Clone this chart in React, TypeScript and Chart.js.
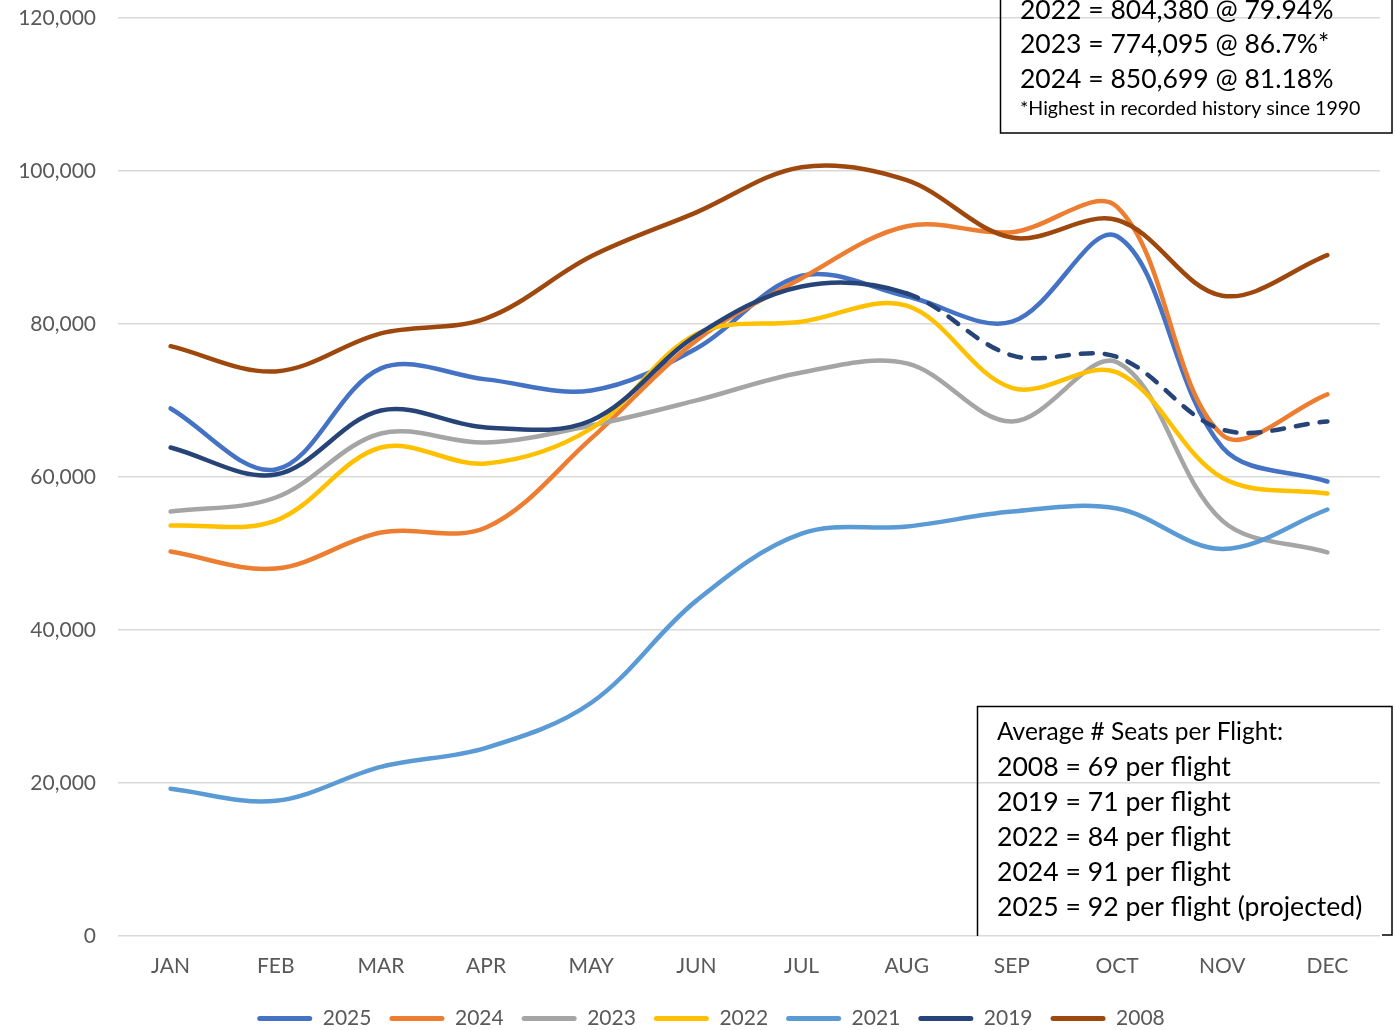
import React, { useEffect, useRef } from "react";
import { Chart, registerables } from "chart.js";

Chart.register(...registerables);

const MONTHS = ["JAN", "FEB", "MAR", "APR", "MAY", "JUN", "JUL", "AUG", "SEP", "OCT", "NOV", "DEC"];

const S2025 = [68960, 60980, 74200, 72760, 71320, 76800, 86300, 83620, 80300, 91470, 63900, 59410];
const S2024 = [50250, 48030, 52740, 53390, 65040, 77860, 85980, 92780, 92000, 95300, 65500, 70800];
const S2023 = [55480, 57320, 65690, 64510, 66740, 70010, 73670, 74850, 67260, 75000, 54300, 50150];
const S2022 = [53650, 54310, 63860, 61770, 66350, 78700, 80300, 82400, 71650, 73670, 59900, 57840];
const S2021 = [19240, 17670, 22110, 24600, 30490, 43840, 52600, 53520, 55480, 55880, 50600, 55750];
const S2019 = [63860, 60330, 68700, 66480, 67390, 78500, 84900, 84000, 75900, 75700, 66200, 67260];
const S2008 = [77100, 73800, 78780, 80740, 88850, 94600, 100500, 98800, 91300, 93600, 83700, 89000];

const SERIES_LABELS = ["2025", "2024", "2023", "2022", "2021", "2019", "2008"];
const SERIES_VALUES = [S2025, S2024, S2023, S2022, S2021, S2019, S2008];
const SERIES_COLORS = ["#4472C4", "#ED7D31", "#A5A5A5", "#FFC000", "#5B9BD5", "#264478", "#9E480E"];
const PROJECTED_FROM_INDEX = 7; // 2019 line dashed from AUG onward

const Y_TICKS = [0, 20000, 40000, 60000, 80000, 100000, 120000];

const TOP_NOTE_LINES = ["2022 = 804,380 @ 79.94%", "2023 = 774,095 @ 86.7%*", "2024 = 850,699 @ 81.18%"];
const TOP_NOTE_FOOT = "*Highest in recorded history since 1990";
const SEATS_TITLE = "Average # Seats per Flight:";
const SEATS_LINES = [
  "2008 = 69 per flight",
  "2019 = 71 per flight",
  "2022 = 84 per flight",
  "2024 = 91 per flight",
  "2025 = 92 per flight (projected)",
];

const FONT = "Lato";
const TEXT_GREY = "#595959";

const notesPlugin = {
  id: "notes",
  afterLayout(chart: any) {
    const lg = chart.legend;
    if (lg) {
      lg.left += 21;
      lg.right += 21;
    }
  },
  afterDraw(chart: any) {
    const ctx = chart.ctx as CanvasRenderingContext2D;
    ctx.save();
    ctx.strokeStyle = "#000000";
    ctx.lineWidth = 1.5;
    // top-right box (cut off above)
    ctx.strokeRect(1000.5, -20, 391.5, 153);
    // bottom-right box
    ctx.beginPath();
    ctx.moveTo(977.5, 936);
    ctx.lineTo(977.5, 706.5);
    ctx.lineTo(1392, 706.5);
    ctx.lineTo(1392, 935);
    ctx.lineTo(1382, 935);
    ctx.stroke();

    ctx.fillStyle = "#000000";
    ctx.textBaseline = "middle";
    ctx.textAlign = "left";
    ctx.font = `26.5px ${FONT}`;
    const topY = [10, 44, 79];
    TOP_NOTE_LINES.forEach((t, i) => ctx.fillText(t, 1020, topY[i]));
    ctx.font = `19.6px ${FONT}`;
    ctx.fillText(TOP_NOTE_FOOT, 1020, 109);

    ctx.font = `24.5px ${FONT}`;
    ctx.fillText(SEATS_TITLE, 997, 732);
    ctx.font = `26.6px ${FONT}`;
    SEATS_LINES.forEach((t, i) => ctx.fillText(t, 997, 767 + i * 35));
    ctx.restore();
  },
};

export default function App() {
  const ref = useRef<HTMLCanvasElement | null>(null);

  useEffect(() => {
    if (!ref.current) return;
    const datasets = SERIES_LABELS.map((label, i) => {
      const ds: any = {
        label,
        data: SERIES_VALUES[i],
        borderColor: SERIES_COLORS[i],
        backgroundColor: SERIES_COLORS[i],
        borderWidth: 4.5,
        borderCapStyle: "round",
        borderJoinStyle: "round",
        pointRadius: 0,
        pointHoverRadius: 0,
        tension: 0.35,
        fill: false,
        order: SERIES_LABELS.length - 1 - i,
      };
      if (label === "2019") {
        ds.segment = {
          borderDash: (c: any) => (c.p0DataIndex >= PROJECTED_FROM_INDEX ? [12, 12] : undefined),
        };
      }
      return ds;
    });

    const chart = new Chart(ref.current, {
      type: "line",
      data: { labels: MONTHS, datasets },
      plugins: [notesPlugin],
      options: {
        animation: false,
        responsive: true,
        maintainAspectRatio: false,
        layout: { padding: { top: 18, right: 15, left: 0, bottom: -9 } },
        scales: {
          x: {
            offset: true,
            grid: { display: false, drawTicks: false },
            border: { display: false },
            ticks: { color: TEXT_GREY, font: { family: FONT, size: 21 }, padding: 18, maxRotation: 0 },
            afterFit: (s: any) => {
              s.height = 54;
              s.paddingLeft = 0;
              s.paddingRight = 0;
            },
          },
          y: {
            min: 0,
            max: 120000,
            afterBuildTicks: (s: any) => {
              s.ticks = Y_TICKS.map((v) => ({ value: v }));
            },
            grid: { color: "#D9D9D9", lineWidth: 1.5, drawTicks: false },
            border: { display: false },
            ticks: {
              color: TEXT_GREY,
              font: { family: FONT, size: 21 },
              padding: 22,
              callback: (v: any) => Number(v).toLocaleString("en-US"),
            },
            afterFit: (s: any) => {
              s.width = 118;
              s.paddingTop = 0;
              s.paddingBottom = 0;
            },
          },
        },
        plugins: {
          tooltip: { enabled: false },
          legend: {
            position: "bottom",
            labels: {
              color: TEXT_GREY,
              font: { family: FONT, size: 21 },
              boxWidth: 55,
              boxHeight: 5,
              padding: 18,
              useBorderRadius: true,
              borderRadius: 2.5,
              generateLabels: (c: any) => {
                const items = Chart.defaults.plugins.legend.labels.generateLabels(c);
                items.forEach((it: any) => {
                  it.lineWidth = 0;
                  it.lineDash = [];
                  it.fillStyle = SERIES_COLORS[it.datasetIndex];
                  it.strokeStyle = SERIES_COLORS[it.datasetIndex];
                });
                return items.sort((a: any, b: any) => a.datasetIndex - b.datasetIndex);
              },
            },
          },
        },
      },
    });
    return () => chart.destroy();
  }, []);

  return (
    <div style={{ position: "fixed", left: 0, top: 0, width: 1395, height: 1030, background: "#fff" }}>
      <canvas ref={ref} />
    </div>
  );
}
